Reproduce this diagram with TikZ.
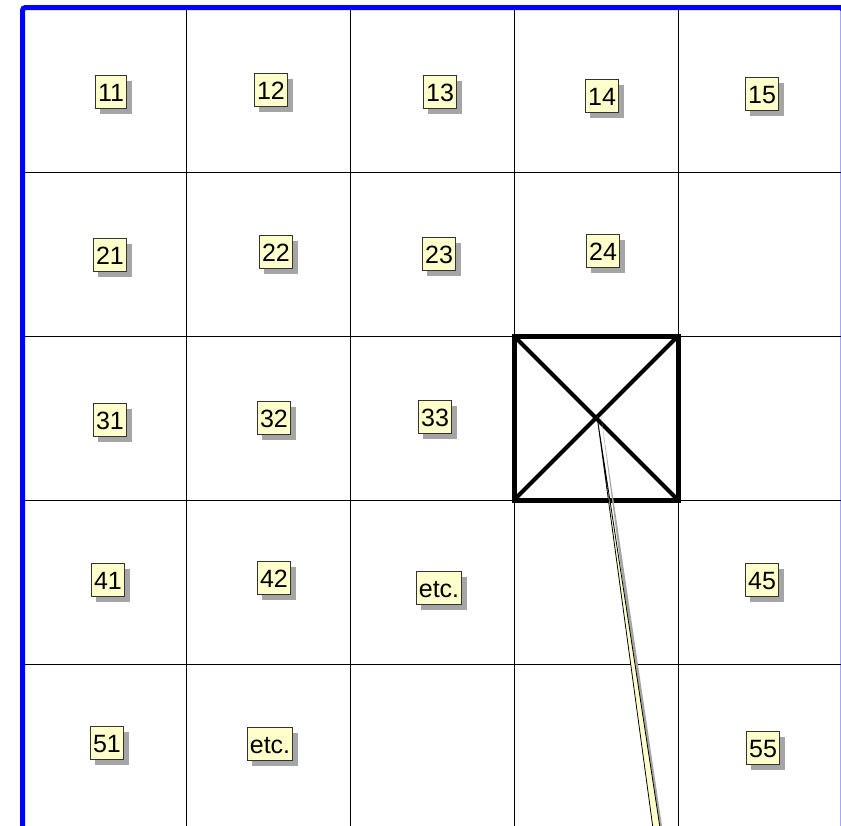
\documentclass[tikz,border=0pt]{standalone}
\usepackage{fontspec}
\setmainfont{Liberation Sans}
\usepackage{xcolor}
\usepackage{tikz}
\usetikzlibrary{
    shadows
}

\definecolor{notefill}{RGB}{255,255,204}
\definecolor{shadowgray}{RGB}{165,165,165}

\begin{document}
\begin{tikzpicture}[
x=0.5pt, y=-0.5pt,
cell/.style={
draw=black,
line width=0.5pt
},
tag/.style={
draw=black!80,
line width=0.5pt,
fill=notefill,
inner xsep=1.4pt,
inner ysep=0pt,
minimum height=16.5pt,
text height=9pt,
text depth=0pt,
font=\fontsize{12.5}{14}\selectfont,
drop shadow={shadow xshift=2.5pt, shadow yshift=-2.5pt,
fill=shadowgray, opacity=1}
}
]
\useasboundingbox (0,0) rectangle (841,825);
\clip (0,0) rectangle (841,825);

% grid
\foreach \gx in {186,350,514,678}
  \draw[cell] (\gx,7.5) -- (\gx,830);
\foreach \gy in {172,336,500,664}
  \draw[cell] (22.5,\gy) -- (845,\gy);

% outer frame
\draw[blue, line width=2.5pt, rounded corners=1.5pt]
(22.5,900) -- (22.5,7.5) -- (843,7.5) -- (843,900);

% marked cell
\draw[line width=2.5pt] (514,336) rectangle (678,500);
\draw[line width=2pt] (514,336) -- (678,500);
\draw[line width=2pt] (678,336) -- (514,500);

% cell tags
\node[tag] (t11) at (111,92) {11};
\node[tag] (t12) at (271,90) {12};
\node[tag] (t13) at (440,92) {13};
\node[tag] (t14) at (602,96) {14};
\node[tag] (t15) at (762,94) {15};

\node[tag] (t21) at (110,255) {21};
\node[tag] (t22) at (276,252) {22};
\node[tag] (t23) at (439,254) {23};
\node[tag] (t24) at (603,251) {24};

\node[tag] (t31) at (110,420) {31};
\node[tag] (t32) at (274,418) {32};
\node[tag] (t33) at (435,417) {33};

\node[tag] (t41) at (108,580) {41};
\node[tag] (t42) at (274,578) {42};
\node[tag] (tetcA) at (439,588) {etc.};
\node[tag] (t45) at (762,580) {45};

\node[tag] (t51) at (107,743) {51};
\node[tag] (tetcB) at (270,744) {etc.};
\node[tag] (t55) at (763,748) {55};

% pointer of a note below the view
\coordinate (tip) at (597,416);
\fill[shadowgray] ([xshift=2]tip) -- (662,880) -- (670,880) -- cycle;
\filldraw[fill=notefill, draw=black, line width=0.4pt]
(tip) -- (660,880) -- (668,880) -- cycle;

\end{tikzpicture}
\end{document}
